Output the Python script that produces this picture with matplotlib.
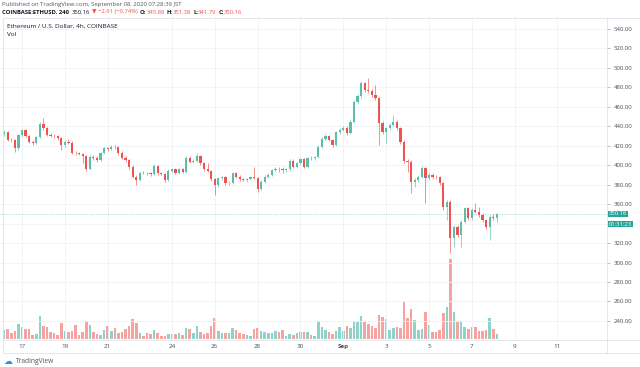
import numpy as np
import matplotlib
matplotlib.use("Agg")
import matplotlib.pyplot as plt

plt.rcParams["font.family"] = ["Open Sans", "DejaVu Sans"]

# ── data: 4h candles, Aug 16 04:00 → Sep 8 04:00 (JST) ──
opens = [432.0, 434.5, 426.0, 425.5, 417.4, 431.0, 436.0, 430.0, 424.2, 422.5,
         429.4, 442.4, 437.9, 431.0, 430.0, 429.5, 427.6, 420.8, 424.2, 423.2,
         412.9, 412.2, 411.5, 409.5, 396.0, 408.8, 407.0, 405.4, 412.2, 417.4,
         417.0, 419.0, 418.5, 412.2, 407.1, 405.4, 398.5, 388.2, 384.8, 392.3,
         392.0, 391.6, 391.0, 399.2, 391.6, 391.2, 384.8, 394.4, 395.8, 392.3,
         395.8, 393.4, 407.8, 403.6, 404.6, 409.5, 401.9, 395.8, 394.4, 385.5,
         379.7, 386.5, 387.5, 381.4, 382.0, 391.6, 388.2, 385.5, 384.8, 385.5,
         387.6, 386.6, 376.0, 383.1, 388.3, 390.0, 395.1, 396.5, 395.8, 395.0,
         395.8, 404.7, 398.5, 402.0, 406.1, 398.5, 407.1, 407.0, 408.1, 419.0,
         427.0, 430.0, 426.0, 420.5, 434.0, 436.5, 438.5, 433.5, 444.7, 465.3,
         471.0, 484.0, 477.3, 476.6, 472.1, 468.7, 443.0, 434.4, 437.9, 441.3,
         444.7, 437.9, 424.2, 404.6, 403.6, 383.0, 384.8, 388.2, 396.8, 386.5,
         389.9, 388.2, 387.5, 381.3, 357.3, 362.5, 324.8, 336.8, 328.2, 341.9,
         355.6, 345.4, 353.9, 352.2, 348.8, 343.7, 336.8, 347.1, 345.89]
highs = [436.0, 435.5, 428.0, 426.5, 432.5, 437.0, 437.5, 431.5, 426.0, 430.5,
         444.0, 448.2, 439.0, 433.0, 432.0, 431.0, 429.0, 426.0, 427.0, 424.5,
         414.5, 414.0, 413.0, 410.5, 410.5, 410.0, 409.0, 413.5, 418.5, 419.0,
         420.5, 421.0, 419.5, 414.5, 409.0, 406.5, 400.0, 390.0, 393.5, 394.0,
         393.5, 393.0, 401.0, 400.5, 393.5, 392.5, 396.0, 397.5, 397.0, 397.5,
         397.0, 409.5, 409.0, 406.0, 412.2, 410.5, 403.0, 402.0, 395.5, 387.0,
         388.0, 389.0, 389.0, 384.0, 393.0, 393.0, 389.5, 387.0, 386.5, 389.0,
         398.5, 388.0, 384.5, 389.5, 391.5, 396.5, 398.0, 398.5, 398.5, 397.5,
         406.0, 406.0, 403.5, 407.5, 407.0, 408.5, 409.0, 409.5, 420.5, 428.5,
         432.0, 431.5, 427.0, 435.5, 438.0, 440.5, 440.0, 446.5, 467.0, 473.0,
         487.0, 485.5, 489.3, 478.5, 482.4, 470.0, 445.0, 439.5, 443.0, 451.6,
         446.0, 439.0, 425.5, 406.5, 405.0, 387.0, 390.0, 399.0, 398.5, 391.5,
         392.0, 390.0, 389.0, 383.0, 364.0, 364.0, 338.5, 338.5, 343.5, 357.5,
         357.0, 356.5, 360.8, 357.0, 350.5, 345.0, 349.0, 350.0, 351.38]
lows = [430.5, 425.0, 424.0, 414.0, 416.0, 429.0, 429.0, 423.0, 421.0, 421.5,
        428.0, 436.5, 430.0, 428.5, 428.0, 426.0, 415.6, 419.0, 421.5, 411.0,
        410.0, 410.0, 402.0, 394.0, 395.0, 405.5, 403.5, 404.5, 411.0, 415.0,
        415.5, 416.5, 410.5, 406.0, 403.0, 396.5, 386.5, 379.7, 383.5, 390.5,
        389.5, 389.0, 390.0, 390.0, 389.5, 383.0, 383.5, 393.0, 390.5, 391.0,
        392.0, 392.5, 402.0, 402.0, 403.5, 400.0, 394.0, 393.0, 384.0, 369.4,
        378.0, 384.5, 380.0, 380.0, 381.0, 386.5, 384.0, 383.5, 383.0, 384.5,
        385.5, 372.0, 374.5, 382.0, 387.0, 389.0, 394.0, 393.5, 392.0, 393.5,
        394.5, 397.0, 397.5, 401.0, 397.0, 397.5, 405.5, 405.5, 407.0, 418.0,
        425.5, 424.5, 418.5, 419.5, 432.5, 435.0, 431.5, 432.0, 443.0, 463.0,
        469.5, 475.0, 474.5, 470.0, 466.5, 420.7, 432.0, 422.4, 436.0, 440.0,
        436.0, 422.0, 402.5, 393.3, 371.1, 378.0, 383.0, 387.0, 360.8, 385.0,
        386.0, 385.5, 379.5, 354.0, 343.6, 310.0, 316.3, 326.0, 316.2, 340.5,
        343.5, 344.0, 350.5, 347.0, 341.5, 334.5, 323.1, 343.5, 341.79]
closes = [434.5, 426.0, 425.5, 417.4, 431.0, 436.0, 430.0, 424.2, 422.5, 429.4,
          442.4, 437.9, 431.0, 430.0, 429.5, 427.6, 420.8, 424.2, 423.2, 412.9,
          412.2, 411.5, 409.5, 396.0, 408.8, 407.0, 405.4, 412.2, 417.4, 417.0,
          419.0, 418.5, 412.2, 407.1, 405.4, 398.5, 388.2, 384.8, 392.3, 392.0,
          391.6, 391.0, 399.2, 391.6, 391.2, 384.8, 394.4, 395.8, 392.3, 395.8,
          393.4, 407.8, 403.6, 404.6, 409.5, 401.9, 395.8, 394.4, 385.5, 379.7,
          386.5, 387.5, 381.4, 382.0, 391.6, 388.2, 385.5, 384.8, 385.5, 387.6,
          386.6, 376.0, 383.1, 388.3, 390.0, 395.1, 396.5, 395.8, 395.0, 395.8,
          404.7, 398.5, 402.0, 406.1, 398.5, 407.1, 407.0, 408.1, 419.0, 427.0,
          430.0, 426.0, 420.5, 434.0, 436.5, 438.5, 433.5, 444.7, 465.3, 471.0,
          484.0, 477.3, 476.6, 472.1, 468.7, 443.0, 434.4, 437.9, 441.3, 444.7,
          437.9, 424.2, 404.6, 403.6, 383.0, 384.8, 388.2, 396.8, 386.5, 389.9,
          388.2, 387.5, 381.3, 357.3, 362.5, 324.8, 336.8, 328.2, 341.9, 355.6,
          345.4, 353.9, 352.2, 348.8, 343.7, 336.8, 347.1, 345.89, 350.16]
volumes = [9.0, 10.0, 5.7, 8.3, 15.0, 12.3, 9.7, 9.7, 4.3, 5.0,
           23.3, 13.3, 11.7, 7.3, 5.7, 4.0, 16.3, 8.0, 6.7, 8.0,
           13.7, 4.0, 7.3, 18.3, 14.0, 7.3, 5.0, 4.0, 9.0, 13.0,
           8.3, 10.7, 5.7, 6.7, 9.7, 13.3, 19.7, 16.3, 6.3, 3.3,
           6.3, 5.0, 9.0, 6.3, 3.0, 3.0, 5.3, 5.3, 5.3, 6.0,
           4.3, 10.7, 9.7, 6.3, 13.0, 7.3, 5.0, 6.3, 13.0, 20.7,
           8.3, 6.3, 5.7, 5.7, 11.3, 9.0, 6.3, 4.7, 3.7, 3.0,
           10.0, 10.7, 8.0, 7.3, 5.7, 6.3, 8.0, 7.3, 9.0, 3.0,
           4.7, 4.0, 5.7, 6.7, 6.7, 7.0, 4.0, 3.3, 18.0, 12.3,
           9.0, 7.3, 5.0, 8.0, 11.7, 8.0, 13.0, 11.3, 18.3, 17.0,
           23.0, 17.0, 15.0, 13.0, 10.7, 23.7, 21.7, 19.7, 9.0, 10.7,
           11.7, 10.7, 37.3, 20.7, 29.7, 19.0, 9.0, 10.0, 27.3, 14.3,
           6.7, 6.7, 8.7, 25.7, 32.3, 79.7, 27.0, 17.3, 18.0, 12.3,
           10.3, 11.7, 11.7, 7.7, 8.0, 9.0, 20.7, 10.0, 5.0]

# day labels: days after Aug 17 00:00 (first candle is Aug 16 04:00, 5 bars earlier)
tick_days = [0, 2, 4, 7, 9, 11, 13, 15, 17, 19, 21, 23, 25]
tick_labels = ["17", "19", "21", "24", "26", "28", "30", "Sep", "3", "5", "7", "9", "11"]
price_ticks = list(range(240, 541, 20))
hidden_price_labels = [340]  # covered by the last-price boxes on the original

UP, DOWN = "#5cbdab", "#ef5350"
VUP, VDOWN = "#8fd3c8", "#f5a3a1"
GRID = "#eef1f7"
W, H = 640, 367

o, h, l, c, v = map(np.array, (opens, highs, lows, closes, volumes))
idx = np.arange(len(c))
up = c >= o

fig = plt.figure(figsize=(W / 100, H / 100), dpi=100)


def fx(x):
    return x / W


def fy(y):
    return 1 - y / H


# chart pane: pixels x 0..607, y 17..339
ax = fig.add_axes([0, fy(339), fx(607), (339 - 17) / H])
ax.set_xlim(-1.16, 168.87)
ax.set_ylim(221.4, 552.3)

# volume overlay on the same area
axv = ax.twinx()
axv.set_ylim(0, 322)
axv.axis("off")
axv.bar(idx, v, width=0.72, color=np.where(up, VUP, VDOWN), zorder=1)

ax.set_zorder(axv.get_zorder() + 1)
ax.patch.set_visible(False)

for yv in price_ticks:
    ax.axhline(yv, color=GRID, lw=0.6, zorder=0)
tick_pos = [5 + d * 6 for d in tick_days]
for xv in tick_pos:
    ax.axvline(xv, color=GRID, lw=0.6, zorder=0)

ax.vlines(idx, l, h, colors=np.where(up, UP, DOWN), lw=0.45, zorder=2)
body = np.maximum(np.abs(c - o), 0.5)
ax.bar(idx, body, bottom=np.minimum(o, c), width=0.62,
       color=np.where(up, UP, DOWN), lw=0, zorder=3)

last = closes[-1]
ax.axhline(last, color="#26a69a", lw=0.5, ls=(0, (1, 1.5)), alpha=0.6, zorder=1)

ax.set_xticks(tick_pos)
ax.set_xticklabels([])
ax.tick_params(axis="x", length=0)
ax.yaxis.tick_right()
ax.set_yticks(price_ticks)
ax.set_yticklabels(["" if p in hidden_price_labels else f"{p:.2f}" for p in price_ticks])
ax.tick_params(axis="y", length=2, width=0.4, pad=3, labelsize=4.3,
               colors="#8a8d96", labelcolor="#4a4d56")
for s in ax.spines.values():
    s.set_visible(False)

# x labels under the pane
for xv, lab in zip(tick_pos, tick_labels):
    xp = ax.transData.transform((xv, 0))[0]
    fig.text(xp / W, fy(346.5), lab, ha="center", va="center", fontsize=4.5,
             color="#4a4d56", fontweight="bold" if lab == "Sep" else "normal")

# frame lines
frame = dict(color="#e0e3eb", lw=0.6)
fig.add_artist(plt.Line2D([fx(2.5), 1], [fy(17.5), fy(17.5)], **frame))
fig.add_artist(plt.Line2D([fx(2.5), 1], [fy(339.5), fy(339.5)], **frame))
fig.add_artist(plt.Line2D([fx(2.5), 1], [fy(352.5), fy(352.5)], **frame))
fig.add_artist(plt.Line2D([fx(2.5), fx(2.5)], [fy(17.5), fy(352.5)], **frame))
fig.add_artist(plt.Line2D([fx(607), fx(607)], [fy(17.5), fy(352.5)], **frame))

# last price / countdown boxes
ylast = ax.transData.transform((0, last))[1]
fig.text(fx(609), ylast / H, f"{last:.2f}", ha="left", va="center", fontsize=4.2,
         color="white", bbox=dict(boxstyle="square,pad=0.12", fc="#26a69a", ec="none"))
fig.text(fx(609), ylast / H - 10.5 / H, "01:31:23", ha="left", va="center", fontsize=4.2,
         color="white", bbox=dict(boxstyle="square,pad=0.12", fc="#26a69a", ec="none"))

# header
fig.text(fx(2), fy(4.5), "Published on TradingView.com, September 08, 2020 07:28:39 JST",
         ha="left", va="center", fontsize=4.3, color="#555555")

renderer = fig.canvas.get_renderer()
pieces = [("COINBASE:ETHUSD, 240", "#131722", "bold", 3),
          ("350.16", "#131722", "normal", 2),
          ("\u25bc", DOWN, "normal", 1.5),
          ("\u22122.61 (\u22120.74%)", DOWN, "normal", 2),
          ("O:", "#131722", "bold", 0), ("345.89", DOWN, "normal", 2),
          ("H:", "#131722", "bold", 0), ("351.38", DOWN, "normal", 2),
          ("L:", "#131722", "bold", 0), ("341.79", DOWN, "normal", 2),
          ("C:", "#131722", "bold", 0), ("350.16", DOWN, "normal", 0)]
xcur = 2.0
for txt, col, wt, gap in pieces:
    t = fig.text(fx(xcur), fy(12), txt, ha="left", va="center", fontsize=4.2,
                 color=col, fontweight=wt)
    xcur += t.get_window_extent(renderer).width + gap

fig.text(fx(7), fy(26), "Ethereum / U.S. Dollar, 4h, COINBASE", ha="left", va="center",
         fontsize=4.6, color="#131722")
fig.text(fx(7), fy(35), "Vol", ha="left", va="center", fontsize=4.6, color="#131722")

# footer logo
fig.text(fx(4), fy(361.5), "\u2601", ha="left", va="center", fontsize=6.5, color="#2196f3")
fig.text(fx(15.5), fy(361.5), "TradingView", ha="left", va="center", fontsize=4.8,
         color="#50535e")

fig.savefig("out.png", dpi=100)
